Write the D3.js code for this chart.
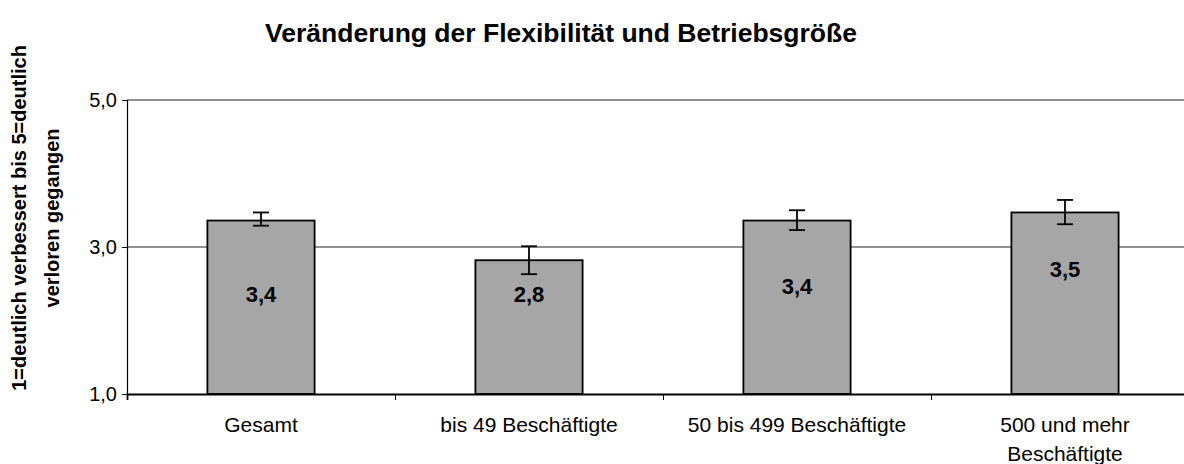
<!DOCTYPE html>
<html>
<head>
<meta charset="utf-8">
<script src="https://cdn.jsdelivr.net/npm/d3@7"></script>
<style>
  body { margin: 0; background: #fff; }
  svg { display: block; font-family: "Liberation Sans", Arial, sans-serif; }
</style>
</head>
<body>
<div id="chart"></div>
<script>
const categories = ["Gesamt", "bis 49 Beschäftigte", "50 bis 499 Beschäftigte", "500 und mehr Beschäftigte"];
const values = [3.36, 2.82, 3.36, 3.47];
const errLow = [3.29, 2.63, 3.23, 3.31];
const errHigh = [3.47, 3.01, 3.50, 3.64];
const valueLabels = ["3,4", "2,8", "3,4", "3,5"];
const yTicks = [1, 3, 5];

// where the value labels sit (data units)
const labelAt = [2.35, 2.36, 2.46, 2.69];

const w = 1184;
const h = 464;
const mLeft = 127, mTop = 100, mBottom = 394, mRight = 127 + 268 * 4;

const svg = d3.select("#chart")
  .append("svg")
  .attr("width", w)
  .attr("height", h);

const xScale = d3.scaleBand()
  .domain(categories)
  .range([mLeft, mRight])
  .paddingInner(0.6)
  .paddingOuter(0.3);

const yScale = d3.scaleLinear()
  .domain([1, 5])
  .range([mBottom, mTop]);

// gridlines
svg.append("g")
  .selectAll("line")
  .data(yTicks.filter((d) => d > 1))
  .enter()
  .append("line")
  .attr("x1", mLeft)
  .attr("x2", mRight)
  .attr("y1", (d) => yScale(d))
  .attr("y2", (d) => yScale(d))
  .attr("stroke", "#222")
  .attr("stroke-width", 1.2);

// bars
svg.append("g")
  .selectAll("rect")
  .data(values)
  .enter()
  .append("rect")
  .attr("x", (d, i) => xScale(categories[i]))
  .attr("y", (d) => yScale(d))
  .attr("width", xScale.bandwidth())
  .attr("height", (d) => yScale(1) - yScale(d))
  .attr("fill", "#a6a6a6")
  .attr("stroke", "#000")
  .attr("stroke-width", 1.8);

// error bars
const cap = 8;
const eb = svg.append("g").attr("stroke", "#000").attr("stroke-width", 1.8);
categories.forEach((c, i) => {
  const cx = xScale(c) + xScale.bandwidth() / 2;
  eb.append("line").attr("x1", cx).attr("x2", cx)
    .attr("y1", yScale(errLow[i])).attr("y2", yScale(errHigh[i]));
  eb.append("line").attr("x1", cx - cap).attr("x2", cx + cap)
    .attr("y1", yScale(errLow[i])).attr("y2", yScale(errLow[i]));
  eb.append("line").attr("x1", cx - cap).attr("x2", cx + cap)
    .attr("y1", yScale(errHigh[i])).attr("y2", yScale(errHigh[i]));
});

// value labels
svg.append("g")
  .selectAll("text")
  .data(valueLabels)
  .enter()
  .append("text")
  .attr("x", (d, i) => xScale(categories[i]) + xScale.bandwidth() / 2)
  .attr("y", (d, i) => yScale(labelAt[i]))
  .attr("dy", "0.35em")
  .attr("text-anchor", "middle")
  .attr("font-size", 22)
  .attr("font-weight", "bold")
  .text((d) => d);

// y axis
const yAxis = d3.axisLeft(yScale)
  .tickValues(yTicks)
  .tickSize(5)
  .tickFormat((d) => d3.format(".1f")(d).replace(".", ","));

const gy = svg.append("g")
  .attr("transform", `translate(${mLeft}, 0)`)
  .call(yAxis);
gy.select(".domain").attr("stroke", "#000").attr("stroke-width", 1.2);
gy.selectAll(".tick line").attr("stroke", "#000");
gy.selectAll(".tick text")
  .attr("font-size", 20)
  .attr("font-family", "Liberation Sans, Arial, sans-serif")
  .attr("fill", "#000")
  .attr("x", -10);

// x axis: divider ticks between categories
const xDiv = d3.scaleLinear().domain([0, categories.length]).range([mLeft, mRight]);
const gx = svg.append("g")
  .attr("transform", `translate(0, ${mBottom})`)
  .call(d3.axisBottom(xDiv).tickValues([1, 2, 3]).tickSize(6).tickFormat(""));
gx.select(".domain").attr("stroke", "#000").attr("stroke-width", 1.8);
gx.selectAll(".tick line").attr("stroke", "#000");

// category labels
const gl = svg.append("g")
  .attr("transform", `translate(0, ${mBottom})`)
  .call(d3.axisBottom(xScale).tickSize(0).tickPadding(0));
gl.select(".domain").remove();
gl.selectAll(".tick text")
  .attr("font-size", 21)
  .attr("font-family", "Liberation Sans, Arial, sans-serif")
  .attr("fill", "#000")
  .attr("y", 0)
  .attr("dy", 0)
  .each(function (d) {
    const t = d3.select(this);
    t.text(null);
    const lines = d === "500 und mehr Beschäftigte" ? ["500 und mehr", "Beschäftigte"] : [d];
    lines.forEach((ln, k) => {
      t.append("tspan").attr("x", 0).attr("y", 38 + k * 29).text(ln);
    });
  });

// title
svg.append("text")
  .attr("x", 561)
  .attr("y", 42)
  .attr("text-anchor", "middle")
  .attr("font-size", 26.5)
  .attr("font-weight", "bold")
  .text("Veränderung der Flexibilität und Betriebsgröße");

// y axis title
const yt = svg.append("text")
  .attr("transform", "translate(0, 218) rotate(-90)")
  .attr("text-anchor", "middle")
  .attr("font-size", 20)
  .attr("font-weight", "bold");
yt.append("tspan").attr("x", 0).attr("y", 26).text("1=deutlich verbessert bis 5=deutlich");
yt.append("tspan").attr("x", 0).attr("y", 59).text("verloren gegangen");
</script>
</body>
</html>
